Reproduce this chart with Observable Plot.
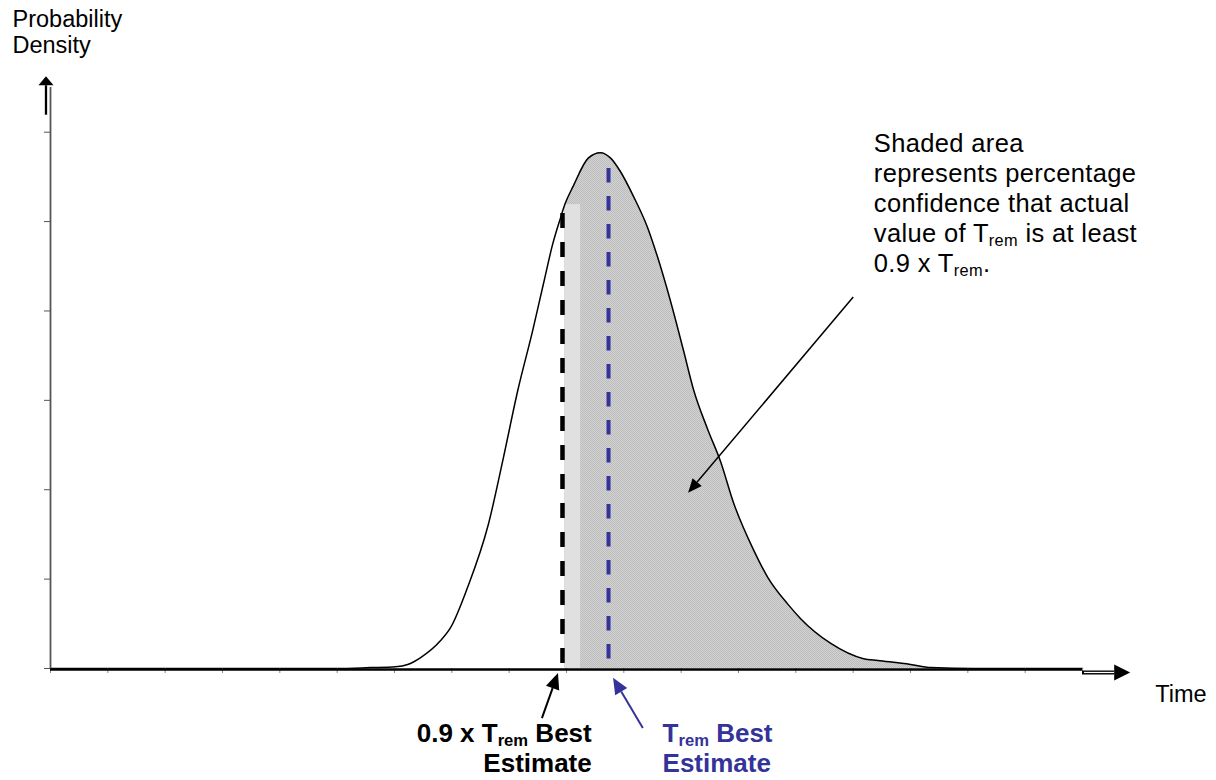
<!DOCTYPE html>
<html><head><meta charset="utf-8">
<script src="https://cdn.jsdelivr.net/npm/d3@7"></script>
<script src="https://cdn.jsdelivr.net/npm/@observablehq/plot@0.6"></script>
<style>html,body{margin:0;padding:0;background:#fff;}</style>
</head><body><div id="chart"></div>
<script>
// ---- data (x: time units = tick spacing, y: density units = tick spacing)
const times   = [0, 5.0, 5.58, 6.02, 6.23, 6.45, 6.80, 6.98, 7.27, 7.64, 7.90, 8.15, 8.41, 8.60, 8.76, 8.90, 8.97, 9.12, 9.38, 9.59, 9.77, 9.94, 10.17, 10.41, 10.59, 10.81, 11.04, 11.22, 11.46, 11.69, 11.91, 12.26, 12.51, 12.86, 13.08, 13.61, 14.18, 14.43, 15.00, 15.35, 16.10, 18];
const density = [0, 0, 0.01, 0.02, 0.045, 0.12, 0.31, 0.46, 0.90, 1.62, 2.36, 3.11, 3.78, 4.31, 4.75, 5.05, 5.19, 5.40, 5.71, 5.77, 5.71, 5.56, 5.28, 4.94, 4.60, 4.12, 3.56, 3.11, 2.68, 2.31, 1.86, 1.33, 1.02, 0.72, 0.56, 0.28, 0.11, 0.09, 0.045, 0.01, 0, 0];
const xTicks = d3.range(0, 19);
const yTicks = d3.range(0, 7);
const shadeStart = 8.97;      // start of shaded area
const bandEnd = 9.245;        // light band right edge
const bandTop = 5.19;
const lowerEstimate = 8.93;   // 0.9 x Trem best estimate
const lowerTop = 5.09;
const bestEstimate = 9.733;   // Trem best estimate
const bestTop = 5.593;

const curve = times.map((t, i) => ({t, d: density[i]}));
const shaded = curve.filter(p => p.t >= shadeStart);

const blue = "#333399";
const font = "'Liberation Sans', Arial, Helvetica, sans-serif";

// annotation arrows (in data coordinates)
const arrows = [
  {x1: 14.01, y1: 4.15, x2: 11.13, y2: 1.96, len: 15, wid: 6, sw: 1.5, color: "#000"},
  {x1: 8.58, y1: -0.56, x2: 8.86, y2: -0.056, len: 17, wid: 7, sw: 2, color: "#000"},
  {x1: 10.34, y1: -0.67, x2: 9.82, y2: -0.11, len: 17, wid: 7, sw: 2, color: blue},
  {x1: 18.0, y1: -0.05, x2: 18.84, y2: -0.05, len: 17, wid: 8, sw: 4, color: "#000", double: true},
  {x1: -0.07, y1: 6.19, x2: -0.07, y2: 6.62, len: 10, wid: 7.5, sw: 2.3, color: "#000"}
];

function arrowMark(list) {
  return (index, scales) => {
    const g = d3.create("svg:g");
    for (const a of list) {
      const x1 = scales.x(a.x1), y1 = scales.y(a.y1), x2 = scales.x(a.x2), y2 = scales.y(a.y2);
      const ang = Math.atan2(y2 - y1, x2 - x1);
      const bx = x2 - (a.len - 1) * Math.cos(ang), by = y2 - (a.len - 1) * Math.sin(ang);
      const px = -Math.sin(ang) * a.wid, py = Math.cos(ang) * a.wid;
      g.append("line").attr("x1", x1).attr("y1", y1).attr("x2", bx).attr("y2", by)
        .attr("stroke", a.color).attr("stroke-width", a.sw);
      if (a.double) {
        g.append("line").attr("x1", x1 + 2).attr("y1", y1).attr("x2", bx).attr("y2", by)
          .attr("stroke", "#fff").attr("stroke-width", 1.2);
      }
      g.append("path")
        .attr("d", `M${x2},${y2}L${bx + px},${by + py}L${bx - px},${by - py}Z`)
        .attr("fill", a.color);
    }
    return g.node();
  };
}

const notes = [
  {x: 14.36, y: 4.44, text: "Shaded area\nrepresents percentage\nconfidence that actual\nvalue of T{rem} is at least\n0.9 x T{rem}."}
];

const chart = Plot.plot({
  width: 1216,
  height: 780,
  marginLeft: 50,
  marginRight: 134,
  marginTop: 87,
  marginBottom: 112,
  x: {domain: [0, 18]},
  y: {domain: [0, 6.5]},
  style: {fontFamily: font, background: "#fff", overflow: "visible"},
  marks: [
    Plot.areaY(shaded, {x: "t", y: "d", curve: "monotone-x", fill: "url(#dither)"}),
    Plot.rect([0], {x1: shadeStart, x2: bandEnd, y1: 0, y2: bandTop, fill: "#e0e0e0"}),
    Plot.line(curve, {x: "t", y: "d", curve: "monotone-x", stroke: "#000", strokeWidth: 1.5}),
    Plot.axisY({ticks: yTicks, tickSize: 6, tickFormat: () => "", label: null, stroke: "#555"}),
    Plot.axisX({ticks: xTicks, tickSize: 5, tickFormat: () => "", label: null, stroke: "#888"}),
    Plot.ruleX([0], {y1: 0, y2: 6.5, stroke: "#555", strokeWidth: 1.8}),
    Plot.ruleY([0], {x1: 0, x2: 18, stroke: "#000", strokeWidth: 2.6, dy: 1}),
    Plot.ruleX([lowerEstimate], {y1: lowerTop, y2: -0.045, stroke: "#000", strokeWidth: 4.5, strokeDasharray: "15,14"}),
    Plot.ruleX([bestEstimate], {y1: bestTop, y2: 0, stroke: blue, strokeWidth: 4, strokeDasharray: "14.5,13.5"}),
    arrowMark(arrows),
    Plot.text(notes, {x: "x", y: "y", text: "text", textAnchor: "start", lineAnchor: "bottom", fontSize: 25.5, lineHeight: 1.176, fill: "#000", className: "note"}),
    Plot.text(["Probability\nDensity"], {x: [-0.663], y: [6.89], textAnchor: "start", lineAnchor: "bottom", fontSize: 23.5, lineHeight: 1.106, fill: "#000"}),
    Plot.text(["Time"], {x: [19.27], y: [-0.37], textAnchor: "start", lineAnchor: "bottom", fontSize: 23.5, fill: "#000"}),
    Plot.text(["0.9 x T{rem} Best\nEstimate"], {x: [9.44], y: [-1.16], textAnchor: "end", lineAnchor: "bottom", fontSize: 26, fontWeight: "bold", lineHeight: 1.154, fill: "#000"}),
    Plot.text(["T{rem} Best\nEstimate"], {x: [10.675], y: [-1.16], textAnchor: "start", lineAnchor: "bottom", fontSize: 26, fontWeight: "bold", lineHeight: 1.154, fill: blue})
  ]
});

// dither pattern for the shaded area
const ns = "http://www.w3.org/2000/svg";
const svg = d3.select(chart);
const pat = svg.insert("defs", ":first-child").append("pattern")
  .attr("id", "dither").attr("width", 2).attr("height", 2).attr("patternUnits", "userSpaceOnUse");
pat.append("rect").attr("width", 2).attr("height", 2).attr("fill", "#d2d2d2");
pat.append("rect").attr("width", 1).attr("height", 1).attr("fill", "#bdbdbd");
pat.append("rect").attr("x", 1).attr("y", 1).attr("width", 1).attr("height", 1).attr("fill", "#bdbdbd");

// slightly wider spacing for the annotation text
svg.selectAll("g.note text").attr("letter-spacing", "0.35px");

// subscripts: T{rem}
svg.selectAll("text").each(function () {
  const tspans = this.querySelectorAll("tspan");
  const targets = tspans.length ? Array.from(tspans) : [this];
  for (const t of targets) {
    const s = t.textContent;
    if (!s.includes("{")) continue;
    t.textContent = "";
    const parts = s.split(/(\{[^}]*\})/);
    let shifted = false;
    for (const p of parts) {
      if (!p) continue;
      const el = document.createElementNS(ns, "tspan");
      if (p.startsWith("{")) {
        el.textContent = p.slice(1, -1);
        el.setAttribute("font-size", "0.64em");
        el.setAttribute("dy", "4");
        shifted = true;
      } else {
        el.textContent = p;
        if (shifted) { el.setAttribute("dy", "-4"); shifted = false; }
      }
      t.appendChild(el);
    }
  }
});

document.getElementById("chart").appendChild(chart);
</script>
</body></html>
